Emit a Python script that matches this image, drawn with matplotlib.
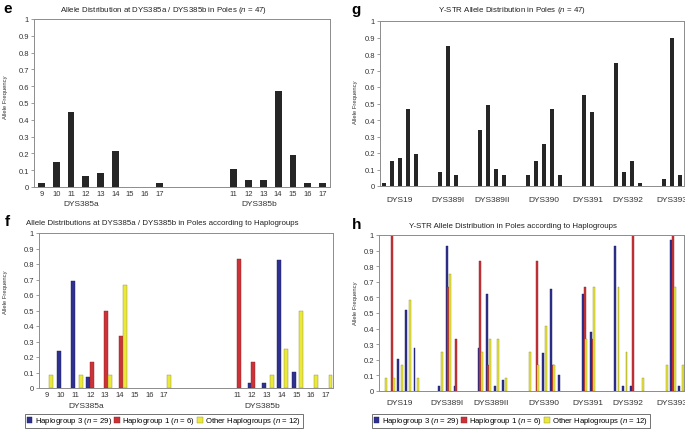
import matplotlib
matplotlib.use("Agg")
import matplotlib.pyplot as plt
import numpy as np
from matplotlib import font_manager
from matplotlib.patches import Patch

W, H = 685, 431

# --- data -------------------------------------------------------------
alleles_a = ["9", "10", "11", "12", "13", "14", "15", "16", "17"]
alleles_b = ["11", "12", "13", "14", "15", "16", "17"]

# e: all Poles
freq_a = [0.021, 0.149, 0.447, 0.064, 0.085, 0.213, 0, 0, 0.021]
freq_b = [0.106, 0.043, 0.043, 0.574, 0.191, 0.021, 0.021]

# f: per haplogroup
hg3_a = [0, 0.241, 0.690, 0.069, 0, 0, 0, 0, 0]
hg1_a = [0, 0, 0, 0.167, 0.500, 0.333, 0, 0, 0]
oth_a = [0.083, 0, 0.083, 0, 0.083, 0.667, 0, 0, 0.083]
hg3_b = [0, 0.034, 0.034, 0.828, 0.103, 0, 0]
hg1_b = [0.833, 0.167, 0, 0, 0, 0, 0]
oth_b = [0, 0, 0.083, 0.250, 0.500, 0.083, 0.083]

# g / h: Y-STR loci
loci = ["DYS19", "DYS389I", "DYS389II", "DYS390", "DYS391", "DYS392", "DYS393"]
ystr_freq = [
    [0.021, 0.149, 0.170, 0.468, 0.191],
    [0.085, 0.851, 0.064],
    [0.340, 0.489, 0.106, 0.064],
    [0.064, 0.149, 0.255, 0.468, 0.064],
    [0.553, 0.447],
    [0.745, 0.085, 0.149, 0.021],
    [0.043, 0.894, 0.064],
]
ystr_hg3 = [
    [0, 0, 0.207, 0.517, 0.276],
    [0.034, 0.931, 0.034],
    [0.276, 0.621, 0.034, 0.069],
    [0, 0, 0.241, 0.655, 0.103],
    [0.621, 0.379],
    [0.931, 0.034, 0.034, 0],
    [0, 0.966, 0.034],
]
ystr_hg1 = [
    [0, 1.0, 0, 0, 0],
    [0, 0.667, 0.333],
    [0.833, 0.167, 0, 0],
    [0, 0.833, 0, 0.167, 0],
    [0.667, 0.333],
    [0, 0, 1.0, 0],
    [0, 1.0, 0],
]
ystr_oth = [
    [0.083, 0.083, 0.167, 0.583, 0.083],
    [0.250, 0.750, 0],
    [0.250, 0.333, 0.333, 0.083],
    [0.250, 0.167, 0.417, 0.167, 0],
    [0.333, 0.667],
    [0.667, 0.250, 0, 0.083],
    [0.167, 0.667, 0.167],
]

series_labels = [
    "Haplogroup 3 ($n$ = 29)",
    "Haplogroup 1 ($n$ = 6)",
    "Other Haplogroups ($n$ = 12)",
]

# --- style ------------------------------------------------------------
names = {f.name for f in font_manager.fontManager.ttflist}
FONT = "Liberation Sans Narrow" if "Liberation Sans Narrow" in names else "Liberation Sans"
plt.rcParams["font.family"] = [FONT, "DejaVu Sans"]
plt.rcParams["mathtext.fontset"] = "custom"
plt.rcParams["mathtext.it"] = f"{FONT}:italic"
plt.rcParams["mathtext.rm"] = FONT

DARK = "#262626"
BLUE = "#2e3190"
RED = "#cc3338"
YELLOW = "#ebe83c"
EDGES = ["#1c1d5c", "#8a2024", "#8f8c2a"]
FRAME = "#8c8c8c"


def px_axes(fig, left, top, right, bottom):
    return fig.add_axes([left / W, 1 - bottom / H, (right - left) / W, (bottom - top) / H])


def fig_text(fig, x, y, s, **kw):
    fig.text(x / W, 1 - y / H, s, **kw)


def style_axes(ax):
    for sp in ax.spines.values():
        sp.set_color(FRAME)
        sp.set_linewidth(0.7)
    ax.set_ylim(0, 1)
    ticks = np.round(np.arange(0, 1.01, 0.1), 1)
    ax.set_yticks(ticks, ["0" if t == 0 else ("1" if t == 1 else f"{t:g}") for t in ticks])
    ax.tick_params(axis="y", length=2, width=0.6, color=FRAME, pad=1.5, labelsize=5.5,
                   labelcolor="#333333")
    ax.tick_params(axis="x", length=0, labelsize=5.5, labelcolor="#333333")


def slot_positions(groups, gap):
    pos, start = [], 0
    for n in groups:
        pos.append(np.arange(start, start + n))
        start += n + gap
    return pos, start - gap


def nonzero_bars(ax, x, vals, **kw):
    vals = np.asarray(vals, dtype=float)
    keep = vals > 0
    ax.bar(np.asarray(x)[keep], vals[keep], **kw)


fig = plt.figure(figsize=(W / 100, H / 100), dpi=100)

# --- e ----------------------------------------------------------------
ax_e = px_axes(fig, 34, 20, 330, 188)
(pa, pb), total = slot_positions([len(alleles_a), len(alleles_b)], 4)
nonzero_bars(ax_e, pa, freq_a, width=0.45, color=DARK)
nonzero_bars(ax_e, pb, freq_b, width=0.45, color=DARK)
ax_e.set_xlim(-0.5, total - 0.5)
style_axes(ax_e)
ax_e.set_xticks(np.concatenate([pa, pb]), alleles_a + alleles_b)
ax_e.tick_params(axis="x", pad=2)
for x, lab in [(2.7, "DYS385a"), (14.7, "DYS385b")]:
    ax_e.text(x, -(205 - 188) / 168, lab, transform=ax_e.get_xaxis_transform(),
              ha="center", va="center", fontsize=6, color="#333333")

# --- f ----------------------------------------------------------------
ax_f = px_axes(fig, 39, 234, 333, 389)
offs_f = [-0.17, 0.08, 0.33]
cols = [BLUE, RED, YELLOW]
for vals_a, vals_b, off, c, ec in zip([hg3_a, hg1_a, oth_a], [hg3_b, hg1_b, oth_b],
                                      offs_f, cols, EDGES):
    nonzero_bars(ax_f, pa + off, vals_a, width=0.27, color=c, edgecolor=ec, linewidth=0.3)
    nonzero_bars(ax_f, pb + off, vals_b, width=0.27, color=c, edgecolor=ec, linewidth=0.3)
ax_f.set_xlim(-0.5, total - 0.5)
style_axes(ax_f)
ax_f.set_xticks(np.concatenate([pa, pb]), alleles_a + alleles_b)
ax_f.tick_params(axis="x", pad=2)
for x, lab in [(2.7, "DYS385a"), (14.7, "DYS385b")]:
    ax_f.text(x, -(407 - 389) / 155, lab, transform=ax_f.get_xaxis_transform(),
              ha="center", va="center", fontsize=6, color="#333333")

# --- g ----------------------------------------------------------------
ax_g = px_axes(fig, 380, 22, 684, 187)
pos_y, total_y = slot_positions([len(v) for v in ystr_freq], 2)
for p, v in zip(pos_y, ystr_freq):
    nonzero_bars(ax_g, p, v, width=0.5, color=DARK)
ax_g.set_xlim(-0.5, total_y - 0.5)
style_axes(ax_g)
ax_g.set_xticks([p.mean() for p in pos_y], loci)
ax_g.tick_params(axis="x", pad=7, labelsize=6)

# --- h ----------------------------------------------------------------
ax_h = px_axes(fig, 379, 236, 684, 392)
offs_h = [-0.08, 0.13, 0.34]
for data, off, c, ec in zip([ystr_hg3, ystr_hg1, ystr_oth], offs_h, cols, EDGES):
    for p, v in zip(pos_y, data):
        nonzero_bars(ax_h, p + off, v, width=0.24, color=c, edgecolor=ec, linewidth=0.3)
ax_h.set_xlim(-0.5, total_y - 0.5)
style_axes(ax_h)
ax_h.set_xticks([p.mean() for p in pos_y], loci)
ax_h.tick_params(axis="x", pad=6, labelsize=6)

# --- titles, labels, legends -----------------------------------------
title_kw = dict(ha="center", va="center", fontsize=5.7, color="#222222")
fig_text(fig, 164, 11, "Allele Distribution at DYS385a / DYS385b in Poles ($n$ = 47)", **title_kw)
fig_text(fig, 512, 11, "Y-STR Allele Distribution in Poles ($n$ = 47)", **title_kw)
fig_text(fig, 162, 224, "Allele Distributions at DYS385a / DYS385b in Poles according to Haplogroups",
         **title_kw)
fig_text(fig, 513, 227, "Y-STR Allele Distribution in Poles according to Haplogroups", **title_kw)

letter_kw = dict(ha="center", va="center", fontsize=11, fontweight="bold",
                 family=["Liberation Sans", "DejaVu Sans"])
fig_text(fig, 8, 9, "e", **letter_kw)
fig_text(fig, 356, 10, "g", **letter_kw)
fig_text(fig, 7, 222, "f", **letter_kw)
fig_text(fig, 357, 225, "h", **letter_kw)

ylab_kw = dict(ha="center", va="center", rotation=90, fontsize=4.2, color="#333333")
for x, y in [(6, 97), (355, 102), (6, 292), (355, 303)]:
    fig_text(fig, x, y, "Allele Frequency", **ylab_kw)

handles = [Patch(facecolor=c, edgecolor=ec, linewidth=0.3) for c, ec in zip(cols, EDGES)]
for cx in [164, 511]:
    leg = fig.legend(handles, series_labels, loc="center", ncol=3,
                     bbox_to_anchor=(cx / W, 1 - 422 / H), fontsize=5.6,
                     frameon=True, fancybox=False, edgecolor="#333333",
                     handlelength=0.7, handleheight=0.7, handletextpad=0.3,
                     columnspacing=0.3, borderpad=0.25, borderaxespad=0)
    leg.get_frame().set_linewidth(0.6)

fig.savefig("out.png", dpi=100)
